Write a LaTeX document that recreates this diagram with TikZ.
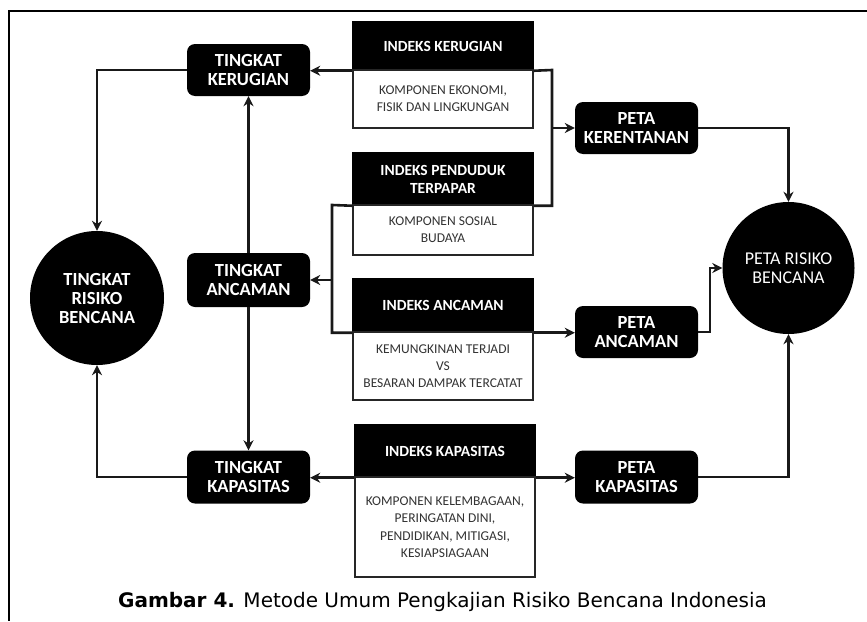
\documentclass[tikz,border=0pt]{standalone}
\usepackage{fontspec}
\setmainfont{Carlito}
\newfontfamily\capfont{DejaVu Sans}
\usetikzlibrary{arrows.meta,calc}

\tikzset{
  conn/.style={line width=2.6pt, black!90},
  arr/.style={conn, -{Stealth[length=10pt,width=10pt]}},
  darkbox/.style={rounded corners=8pt, fill=black, text=white, font=\bfseries\fontsize{18.5}{19}\selectfont,
    align=center, minimum width=123pt, inner sep=0pt},
  bigdot/.style={circle, fill=black, text=white, align=center, inner sep=0pt},
  idxhead/.style={rectangle, fill=black, draw=black, line width=1.5pt, text=white,
    font=\bfseries\fontsize{15.5}{18}\selectfont, align=center, minimum width=180pt, inner sep=0pt},
  idxbody/.style={rectangle, fill=white, draw=black!85, line width=2.6pt, text=black!80,
    font=\fontsize{13.5}{17}\selectfont, align=center, minimum width=180pt, inner sep=0pt},
}

\begin{document}
\begin{tikzpicture}[x=1pt, y=-1pt]
  \useasboundingbox (0,0) rectangle (867,621);
  % frame: top and left rules
  \draw[line width=2.4pt] (867,11) -- (9,11) -- (9,621);

  % left column: levels
  \node[darkbox, minimum height=52pt] (tk) at (248.5,70) {TINGKAT\\KERUGIAN};
  \node[darkbox, minimum height=54pt] (ta) at (248.5,280) {TINGKAT\\ANCAMAN};
  \node[darkbox, minimum height=53pt] (tkap) at (248.5,477) {TINGKAT\\KAPASITAS};
  \node[bigdot, minimum size=134pt, font=\bfseries\fontsize{18.5}{19}\selectfont] (trb) at (97,298) {TINGKAT\\RISIKO\\BENCANA};

  % middle column: indices
  \node[idxhead, minimum height=48pt] (ikh) at (443,46) {INDEKS KERUGIAN};
  \node[idxbody, minimum height=58pt] (ikb) at (443,99) {KOMPONEN EKONOMI,\\FISIK DAN LINGKUNGAN};
  \node[idxhead, minimum height=52pt] (iph) at (443,179) {INDEKS PENDUDUK\\TERPAPAR};
  \node[idxbody, minimum height=50pt] (ipb) at (443,230) {KOMPONEN SOSIAL\\BUDAYA};
  \node[idxhead, minimum height=53pt] (iah) at (443,305.5) {INDEKS ANCAMAN};
  \node[idxbody, minimum height=68pt] (iab) at (443,366) {KEMUNGKINAN TERJADI\\VS\\BESARAN DAMPAK TERCATAT};
  \node[idxhead, minimum height=52pt] (ich) at (445,451) {INDEKS KAPASITAS};
  \node[idxbody, minimum height=100pt, font=\fontsize{13.5}{17.5}\selectfont] (icb) at (445,527) {KOMPONEN KELEMBAGAAN,\\PERINGATAN DINI,\\PENDIDIKAN, MITIGASI,\\KESIAPSIAGAAN};

  % right column: maps
  \node[darkbox, minimum height=52pt] (pk) at (636.5,128) {PETA\\KERENTANAN};
  \node[darkbox, minimum height=52pt] (pa) at (636.5,332) {PETA\\ANCAMAN};
  \node[darkbox, minimum height=53pt] (pkap) at (636.5,477) {PETA\\KAPASITAS};
  \node[bigdot, minimum size=132pt, font=\fontsize{18}{19}\selectfont] (prb) at (788.5,268) {PETA RISIKO\\BENCANA};

  % junction points
  \coordinate (jl) at (332,205);
  \coordinate (jr) at (552,70);
  \coordinate (jp) at (710,332);

  % connectors
  \draw[arr] (ikh.south west) -- (ikh.south west -| tk.east);
  \draw[arr] (tk.west) -| (trb.north);
  \draw[arr] (tkap.west) -| (trb.south);
  \draw[arr] (ta.north) -- (tk.south);
  \draw[arr] (ta.south) -- (tkap.north);
  \draw[conn] (iph.south west) -- (jl) |- (iah.south west);
  \draw[arr] (jl |- ta.east) -- (ta.east);
  \draw[conn] (ikh.south east) -- (jr) |- (iph.south east);
  \draw[arr] (jr |- pk.west) -- (pk.west);
  \draw[arr] (pk.east) -| (prb.north);
  \draw[arr] (iah.south east) -- (iah.south east -| pa.west);
  \draw[arr] (pa.east) -- (jp) |- (prb.west);
  \draw[arr] (ich.south east) -- (ich.south east -| pkap.west);
  \draw[arr] (ich.south west) -- (ich.south west -| tkap.east);
  \draw[arr] (pkap.east) -| (prb.south);

  % caption
  \node[anchor=base, font=\capfont\fontsize{20}{24}\selectfont, inner sep=0pt] (cap) at (442.5,607)
    {\textbf{Gambar 4.} Metode Umum Pengkajian Risiko Bencana Indonesia};
\end{tikzpicture}
\end{document}
